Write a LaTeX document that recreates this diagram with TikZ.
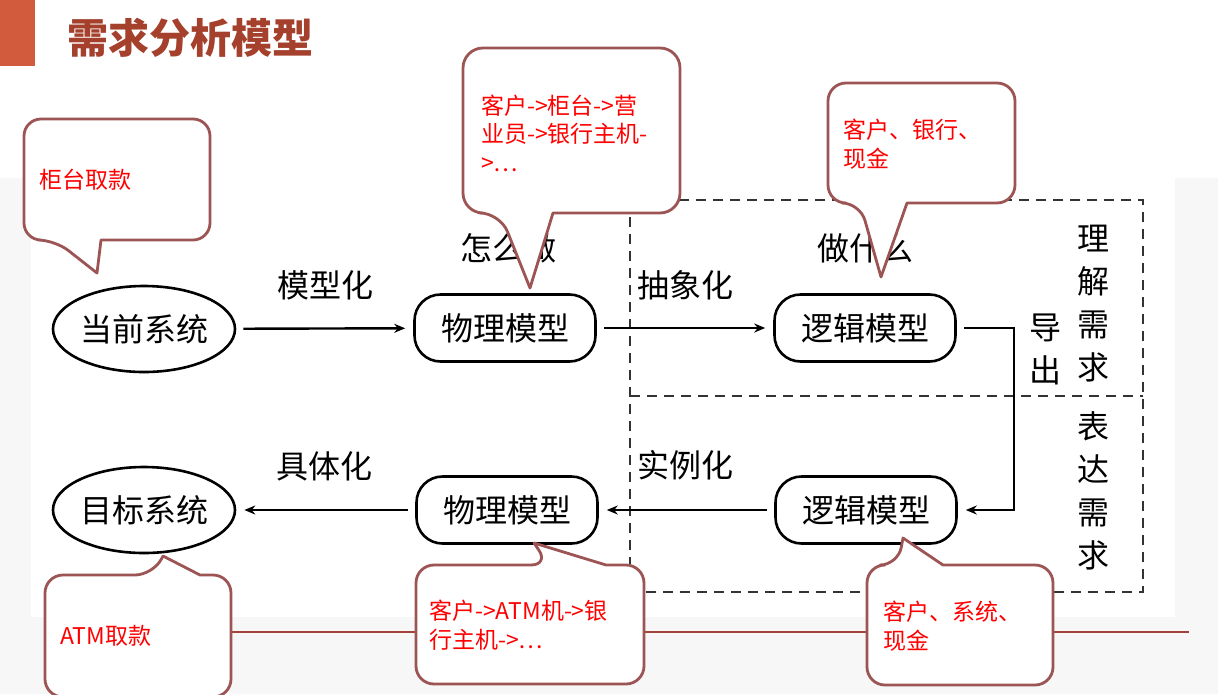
\documentclass[tikz,border=0pt]{standalone}
\usepackage{fontspec}
\setmainfont{Noto Sans CJK SC}
\usepackage{xcolor}
\usetikzlibrary{shapes.geometric}
\usetikzlibrary{arrows.meta}
\definecolor{titlered}{HTML}{A4402B}
\definecolor{barred}{HTML}{D25A3D}
\definecolor{calloutedge}{HTML}{9C5454}
\definecolor{rulered}{HTML}{A3433B}
\tikzset{ 
sys/.style={
  ellipse,draw,line width=2.6pt,
  minimum width=182pt,minimum height=86pt,
  inner sep=0pt,font=\fontsize{32}{36}\selectfont
},
model/.style={
  rectangle,draw,rounded corners=26pt,line width=2.6pt,
  minimum width=181pt,minimum height=67pt,
  inner sep=0pt,font=\fontsize{32}{36}\selectfont
},
lbl/.style={inner sep=0pt,font=\fontsize{32}{36}\selectfont},
vlbl/.style={inner sep=0pt,align=center,font=\fontsize{32}{43}\selectfont},
flow/.style={line width=2.4pt,->,>={Stealth[length=11pt,width=9pt]},
  shorten <=7pt,shorten >=8pt},
callout/.style={draw=calloutedge,line width=2.8pt,fill=white,line join=round},
note/.style={anchor=west,align=left,inner sep=0pt,text=red,
  font=\fontsize{23}{28.5}\selectfont},
%note/.style={font=\bfseries},
}
\begin{document}
\begin{tikzpicture}[x=1pt,y=-1pt]
\useasboundingbox (0,0) rectangle (1218,694);
% the slide
\fill[white] (0,0) rectangle (1218,694);
\fill[black!3] (0,617) rectangle (1218,694);
\fill[black!3] (0,178) rectangle (31,617);
\fill[black!3] (1175,178) rectangle (1218,617);
\fill[barred] (0,0) rectangle (35,66);
\node[anchor=west,inner sep=0pt,text=titlered,font=\fontsize{41}{44}\selectfont\bfseries]
  (title) at (67,38) {需求分析模型};
\draw[rulered,line width=1.2pt] (45,632) -- (1189,632);
% the dashed frame
\begin{scope}[dashed,dash pattern=on 10pt off 7pt,line width=1.6pt,black!80]
\draw (630,200) rectangle (1143,592);
\draw (630,396) -- (1143,396);
\end{scope}
% the models
\node[sys] (cur) at (144,329) {当前系统};
\node[model] (phys1) at (505,328) {物理模型};
\node[model] (logic1) at (865,328) {逻辑模型};
\node[model] (logic2) at (866,510) {逻辑模型};
\node[model] (phys2) at (507,510) {物理模型};
\node[sys] (target) at (144,510) {目标系统};
% the arrows
\draw[flow] (cur) -- (phys1);
\draw[flow] (phys1) -- (logic1);
\draw[flow] (logic1.east) -- ++(57,0) |- (logic2.east);
\draw[flow] (logic2) -- (phys2);
\draw[flow] (phys2) -- (target);
% the labels
\node[lbl] (mxh) at (325,285) {模型化};
\node[lbl] (cxh) at (685,285) {抽象化};
\node[lbl] (zmz) at (508,248) {怎么做};
\node[lbl] (zsm) at (865,248) {做什么};
\node[lbl] (jth) at (324,466) {具体化};
\node[lbl] (slh) at (685,465) {实例化};
\node[vlbl] (dc) at (1045,349) {导\\出};
\node[vlbl] (ljxq) at (1093,304) {理\\解\\需\\求};
\node[vlbl] (bdxq) at (1093,491) {表\\达\\需\\求};
% the callouts
\draw[callout] (101,240) [rounded corners=17pt] -- (210,240) -- (210,119)
  -- (24,119) -- (24,240) -- (55,240) [sharp corners] -- (97,273) -- cycle;
\node[note] (gt) at (39,180) {柜台取款};
\draw[callout] (553,213) [rounded corners=20pt] -- (680,213) -- (680,48)
  -- (463,48) -- (463,213) -- (500,213) [sharp corners] -- (530,288) -- cycle;
\node[note] (lc1) at (481,133) {客户->柜台->营\\业员->银行主机-\\>…};
\draw[callout] (907,203) [rounded corners=18pt] -- (1015,203) -- (1015,83)
  -- (828,83) -- (828,203) -- (860,203) [sharp corners] -- (881,277) -- cycle;
\node[note] (st1) at (843,144) {客户、银行、\\现金};
\draw[callout] (200,575) [rounded corners=18pt] -- (231,575) -- (231,697)
  -- (45,697) -- (45,575) -- (153,575) [sharp corners] -- (163,556) -- cycle;
\node[note] (atm) at (60,636) {ATM取款};
\draw[callout] (606,565) [rounded corners=18pt] -- (644,565) -- (644,684)
  -- (416,684) -- (416,565) -- (549,565) [sharp corners] -- (534,543) -- cycle;
\node[note] (lc2) at (429,625) {客户->ATM机->银\\行主机->…};
\draw[callout] (943,565) [rounded corners=18pt] -- (1053,565) -- (1053,685)
  -- (867,685) -- (867,565) -- (898,565) [sharp corners] -- (903,538) -- cycle;
\node[note] (st2) at (883,626) {客户、系统、\\现金};
\end{tikzpicture}
\end{document}
